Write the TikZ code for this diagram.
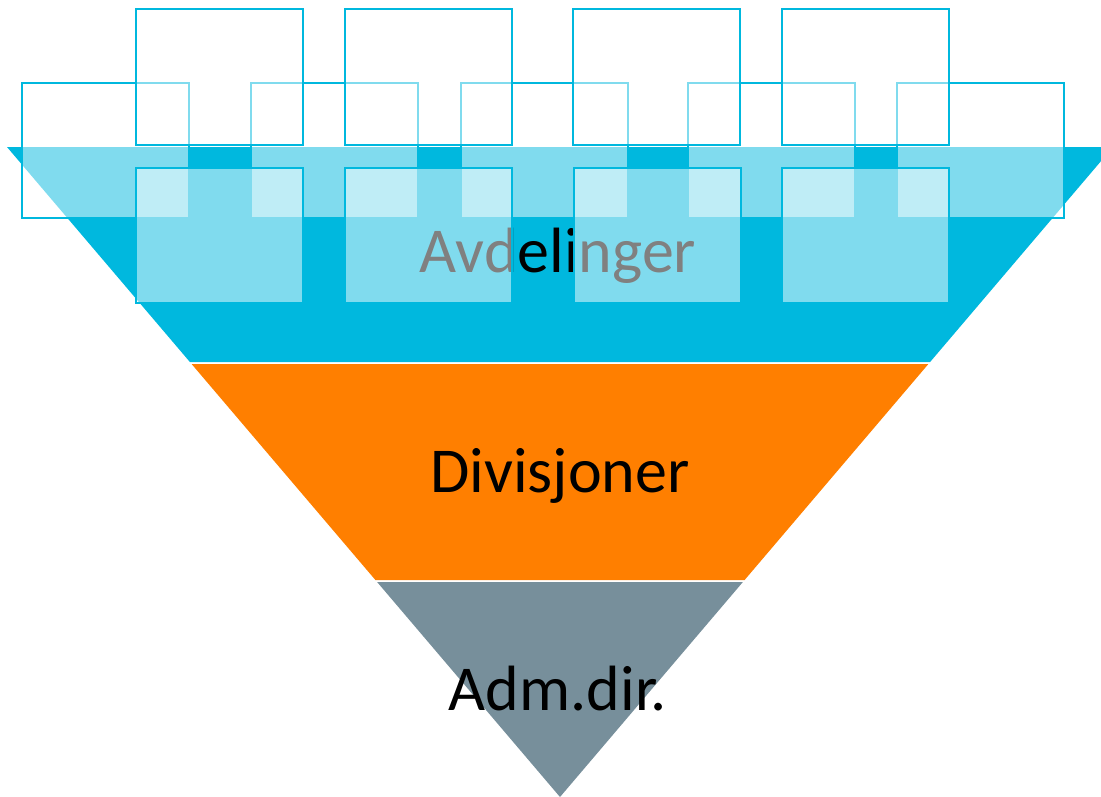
\documentclass[tikz,border=0pt]{standalone}
\usepackage{fontspec}
\setmainfont{Carlito}
\usepackage{tikz}

\definecolor{avdcyan}{HTML}{00B8DE}
\definecolor{divorange}{HTML}{FF7F00}
\definecolor{admgray}{HTML}{778F9B}

\begin{document}
\begin{tikzpicture}[x=0.75pt, y=-0.75pt,
        unit/.style={draw=avdcyan, line width=1.9pt, fill=white, fill opacity=0.5},
        tierlabel/.style={anchor=base, inner sep=0pt, text=black, font=\fontsize{48}{58}\selectfont}
    ]
        \useasboundingbox (0,0) rectangle (1101,797);
        \clip (0,0) rectangle (1101,797);

        % funnel
        \fill[avdcyan] (7,147) -- (1113,147) -- (930.1,362) -- (189.9,362) -- cycle;
        \fill[divorange] (191.6,364) -- (928.4,364) -- (744.6,580) -- (375.4,580) -- cycle;
        \fill[admgray] (377.1,582) -- (742.9,582) -- (560,797) -- cycle;

        \node[tierlabel] (avd) at (558,272) {Avdelinger};
        \node[tierlabel] (div) at (560,492) {Divisjoner};
        \node[tierlabel] (adm) at (558,710) {Adm.dir.};

        % units: middle row, top row, bottom row
        \foreach \x in {22,251,461,688,897}
            \draw[unit] (\x,83) rectangle ++(167,135);
        \foreach \x in {136,345,573,782}
            \draw[unit] (\x,9) rectangle ++(167,136);
        \foreach \x in {136,345,574,782}
            \draw[unit] (\x,168) rectangle ++(167,135);

    \end{tikzpicture}
\end{document}
